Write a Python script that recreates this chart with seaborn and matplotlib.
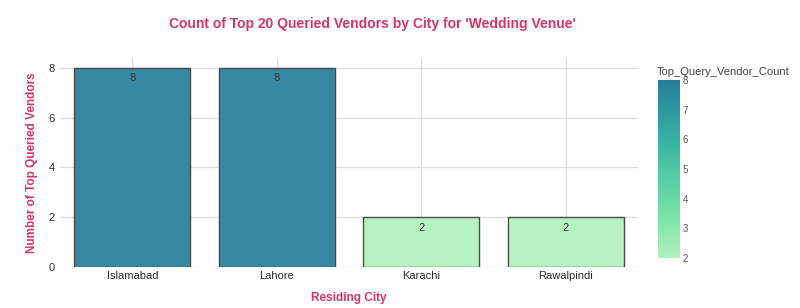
import matplotlib
matplotlib.use("Agg")
import matplotlib.pyplot as plt
import seaborn as sns
import pandas as pd
import numpy as np
from matplotlib.colors import LinearSegmentedColormap, Normalize
from matplotlib.cm import ScalarMappable

cities = ["Islamabad", "Lahore", "Karachi", "Rawalpindi"]
counts = [8, 8, 2, 2]
cbar_ticks = [2, 3, 4, 5, 6, 7, 8]

title = "Count of Top 20 Queried Vendors by City for 'Wedding Venue'"
xlabel = "Residing City"
ylabel = "Number of Top Queried Vendors"
cbar_title = "Top_Query_Vendor_Count"

tealgrn = ['#b0f2bc', '#89e8ac', '#67dba5', '#4cc8a3', '#38b2a3', '#2c98a0', '#257d98']
cmap = LinearSegmentedColormap.from_list("tealgrn", tealgrn)
norm = Normalize(vmin=min(counts), vmax=max(counts))

sns.set_theme(style="white")
plt.rcParams['font.family'] = ['Liberation Sans', 'DejaVu Sans']

df = pd.DataFrame({"city": cities, "count": counts})


def blend(c, a=0.92):
    r, g, b, _ = c
    return (a * r + (1 - a), a * g + (1 - a), a * b + (1 - a))


palette = {c: blend(cmap(norm(v))) for c, v in zip(cities, counts)}

fig = plt.figure(figsize=(8, 3.08), dpi=100)
ax = fig.add_axes([0.075, 0.133, 0.7225, 0.679])

sns.barplot(data=df, x="city", y="count", hue="city", palette=palette, legend=False,
            width=0.8, edgecolor="#4a4a4a", linewidth=1.0, saturation=1, ax=ax, zorder=3)

ax.set_ylim(0, 8.4)
ax.set_xlim(-0.5, len(cities) - 0.5)
ax.set_yticks([0, 2, 4, 6, 8])
ax.grid(True, color="#dcdcdc", linewidth=0.9, zorder=0)
ax.set_axisbelow(True)
for s in ax.spines.values():
    s.set_visible(False)
ax.tick_params(axis="both", length=0, labelsize=8, colors="#2a2a2a", pad=3)
ax.tick_params(axis="y", pad=4)

for cont in ax.containers:
    ax.bar_label(cont, labels=[str(int(v)) for v in cont.datavalues], padding=-11,
                 fontsize=8, color="#333333")

ax.set_xlabel(xlabel, color="#d6336c", fontsize=8.5, fontweight="bold", labelpad=8)
ax.set_ylabel(ylabel, color="#d6336c", fontsize=8.5, fontweight="bold", labelpad=7)

fig.text(0.465, 0.922, title, ha="center", va="center", color="#d6336c",
         fontsize=10, fontweight="bold")

cax = fig.add_axes([0.8225, 0.1623, 0.0275, 0.578])
sm = ScalarMappable(norm=norm, cmap=cmap)
cb = fig.colorbar(sm, cax=cax, ticks=cbar_ticks)
cb.outline.set_visible(False)
cax.tick_params(length=0, labelsize=7, colors="#555555", pad=2)
fig.text(0.8215, 0.765, cbar_title, ha="left", va="center", fontsize=8, color="#444444")

fig.savefig("out.png", dpi=100)
